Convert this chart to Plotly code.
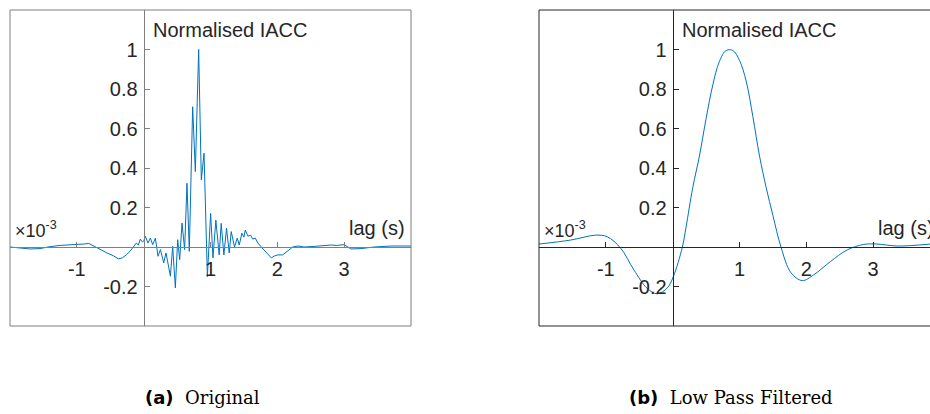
import plotly.graph_objects as go

# ---------------- data ----------------
lag_orig = [-2.00, -1.85, -1.70, -1.55, -1.40, -1.25, -1.10, -1.00, -0.90, -0.82,
            -0.75, -0.65, -0.55, -0.45, -0.38, -0.32, -0.26, -0.20, -0.15, -0.11,
            -0.08, -0.05, -0.02, 0.00, 0.025, 0.065, 0.10, 0.135, 0.175, 0.215,
            0.25, 0.30, 0.334, 0.40, 0.434, 0.474, 0.509, 0.539, 0.574, 0.613,
            0.648, 0.683, 0.733, 0.773, 0.823, 0.863, 0.903, 0.953, 1.002, 1.037,
            1.08, 1.13, 1.16, 1.20, 1.24, 1.28, 1.31, 1.36, 1.40, 1.43,
            1.47, 1.50, 1.52, 1.56, 1.60, 1.63, 1.67, 1.71, 1.76, 1.81,
            1.86, 1.91, 1.96, 2.01, 2.08, 2.16, 2.23, 2.31, 2.40, 2.55,
            2.70, 2.80, 2.90, 3.00, 3.10, 3.25, 3.45, 3.70, 4.00]
iacc_orig = [0.000, -0.005, -0.010, -0.008, 0.002, 0.008, 0.010, 0.013, 0.015, 0.018,
             0.005, -0.015, -0.030, -0.045, -0.060, -0.055, -0.040, -0.020, 0.000, 0.020,
             0.010, 0.040, 0.025, 0.030, 0.054, 0.020, 0.045, 0.012, 0.045, -0.047,
             -0.013, -0.080, -0.030, -0.148, 0.003, -0.207, 0.037, -0.064, 0.121, -0.013,
             0.323, -0.022, 0.710, 0.382, 1.000, 0.340, 0.475, -0.150, 0.170, -0.055,
             0.136, -0.040, 0.120, -0.040, 0.095, -0.030, 0.078, 0.000, 0.045, 0.010,
             0.070, 0.050, 0.086, 0.055, 0.060, 0.040, 0.045, 0.020, 0.000, -0.020,
             -0.040, -0.055, -0.045, -0.040, -0.040, -0.020, 0.000, 0.005, 0.000, 0.003,
             0.008, 0.010, 0.008, 0.012, -0.010, -0.008, 0.000, 0.005, 0.005]

lag_filt = [-2.00, -1.53, -1.15, -0.98, -0.78, -0.58, -0.38, -0.23, -0.08, 0.01,
            0.145, 0.20, 0.30, 0.40, 0.50, 0.60, 0.70, 0.80, 0.90, 1.00, 1.10,
            1.20, 1.30, 1.40, 1.50, 1.62, 1.77, 1.94, 2.11, 2.36, 2.61, 2.86,
            3.06, 3.36, 3.86]
iacc_filt = [0.015, 0.035, 0.060, 0.052, -0.005, -0.116, -0.210, -0.237, -0.207, -0.150,
             0.000, 0.100, 0.300, 0.460, 0.650, 0.820, 0.940, 0.995, 0.995, 0.945, 0.840,
             0.660, 0.460, 0.300, 0.160, 0.000, -0.130, -0.170, -0.141, -0.074, -0.015, 0.013,
             0.015, 0.005, 0.015]

x_ticks = [-1, 1, 2, 3]
x_tick_text = ["-1", "1", "2", "3"]
y_ticks = [-0.2, 0.2, 0.4, 0.6, 0.8, 1.0]
y_tick_text = ["-0.2", "0.2", "0.4", "0.6", "0.8", "1"]

# ---------------- layout ----------------
W, H = 930, 414
FONT = "Liberation Sans, Arial, sans-serif"
TXT = "#262626"
LINE = "#0072BD"
FS = 20

yr = [-0.4, 1.2]
yd = [1 - 326 / H, 1 - 10 / H]
panels = [
    dict(xd=[10 / W, 411 / W], xr=[-2, 4], frame="#7f7f7f"),
    dict(xd=[539 / W, 1.0], xr=[-2, -2 + 391 / (401 / 6)], frame="#262626"),
]

fig = go.Figure()
fig.add_trace(go.Scatter(x=lag_orig, y=iacc_orig, mode="lines",
                         line=dict(color=LINE, width=1), xaxis="x", yaxis="y"))
fig.add_trace(go.Scatter(x=lag_filt, y=iacc_filt, mode="lines",
                         line=dict(color=LINE, width=1, shape="spline", smoothing=1.0),
                         xaxis="x2", yaxis="y2"))

layout = dict(width=W, height=H, margin=dict(l=0, r=0, t=0, b=0),
              paper_bgcolor="white", plot_bgcolor="white", showlegend=False,
              font=dict(family=FONT, size=FS, color=TXT))
shapes = []
annotations = []
for i, p in enumerate(panels):
    sx = "" if i == 0 else "2"
    x0p, x1p = p["xd"]
    y0p, y1p = yd
    xzero = x0p + (0 - p["xr"][0]) / (p["xr"][1] - p["xr"][0]) * (x1p - x0p)
    yzero = y0p + (0 - yr[0]) / (yr[1] - yr[0]) * (y1p - y0p)
    layout["xaxis" + sx] = dict(domain=p["xd"], range=p["xr"], anchor="free", position=yzero,
                                showgrid=False, zeroline=False, showline=True,
                                linecolor=p["frame"], linewidth=1,
                                ticks="inside", ticklen=5, tickcolor=p["frame"],
                                tickvals=x_ticks, ticktext=x_tick_text, ticklabelstandoff=4,
                                tickfont=dict(family=FONT, size=FS, color=TXT), fixedrange=True)
    layout["yaxis" + sx] = dict(domain=yd, range=yr, anchor="free", position=xzero,
                                showgrid=False, zeroline=False, showline=True,
                                linecolor=p["frame"], linewidth=1,
                                ticks="inside", ticklen=5, tickcolor=p["frame"],
                                tickvals=y_ticks, ticktext=y_tick_text, ticklabelstandoff=2,
                                tickfont=dict(family=FONT, size=FS, color=TXT), fixedrange=True)
    shapes.append(dict(type="rect", xref="paper", yref="paper",
                       x0=x0p, x1=x1p + (0.02 if i == 1 else 0), y0=y0p, y1=y1p,
                       line=dict(color=p["frame"], width=1), fillcolor="rgba(0,0,0,0)"))
    ox = 0 if i == 0 else 529
    annotations.append(dict(text="Normalised IACC", xref="paper", yref="paper",
                            x=(151 + ox) / W, y=1 - 30 / H, xanchor="left", yanchor="middle",
                            showarrow=False, font=dict(size=FS, color=TXT)))
    annotations.append(dict(text="×10<sup>-3</sup>", xref="paper", yref="paper",
                            x=(13 + ox) / W, y=1 - 229 / H, xanchor="left", yanchor="middle",
                            showarrow=False, font=dict(size=18, color=TXT)))
    annotations.append(dict(text="lag (s)", xref="paper", yref="paper",
                            x=(347 + ox) / W, y=1 - 228 / H, xanchor="left", yanchor="middle",
                            showarrow=False, font=dict(size=FS, color=TXT)))

captions = [("(a)", "Original", 202), ("(b)", "Low Pass Filtered", 731)]
for lab, txt, cx in captions:
    annotations.append(dict(
        text='<b>' + lab + '</b>  <span style="font-family:\'DejaVu Serif\', serif">' + txt + '</span>',
        xref="paper", yref="paper", x=cx / W, y=1 - 397 / H, xanchor="center", yanchor="middle",
        showarrow=False, font=dict(family="DejaVu Sans, sans-serif", size=18, color="black")))

layout["shapes"] = shapes
layout["annotations"] = annotations
fig.update_layout(**layout)
fig.write_html("out.html", config={"displayModeBar": False},
               post_script="document.body.style.margin='0';")
